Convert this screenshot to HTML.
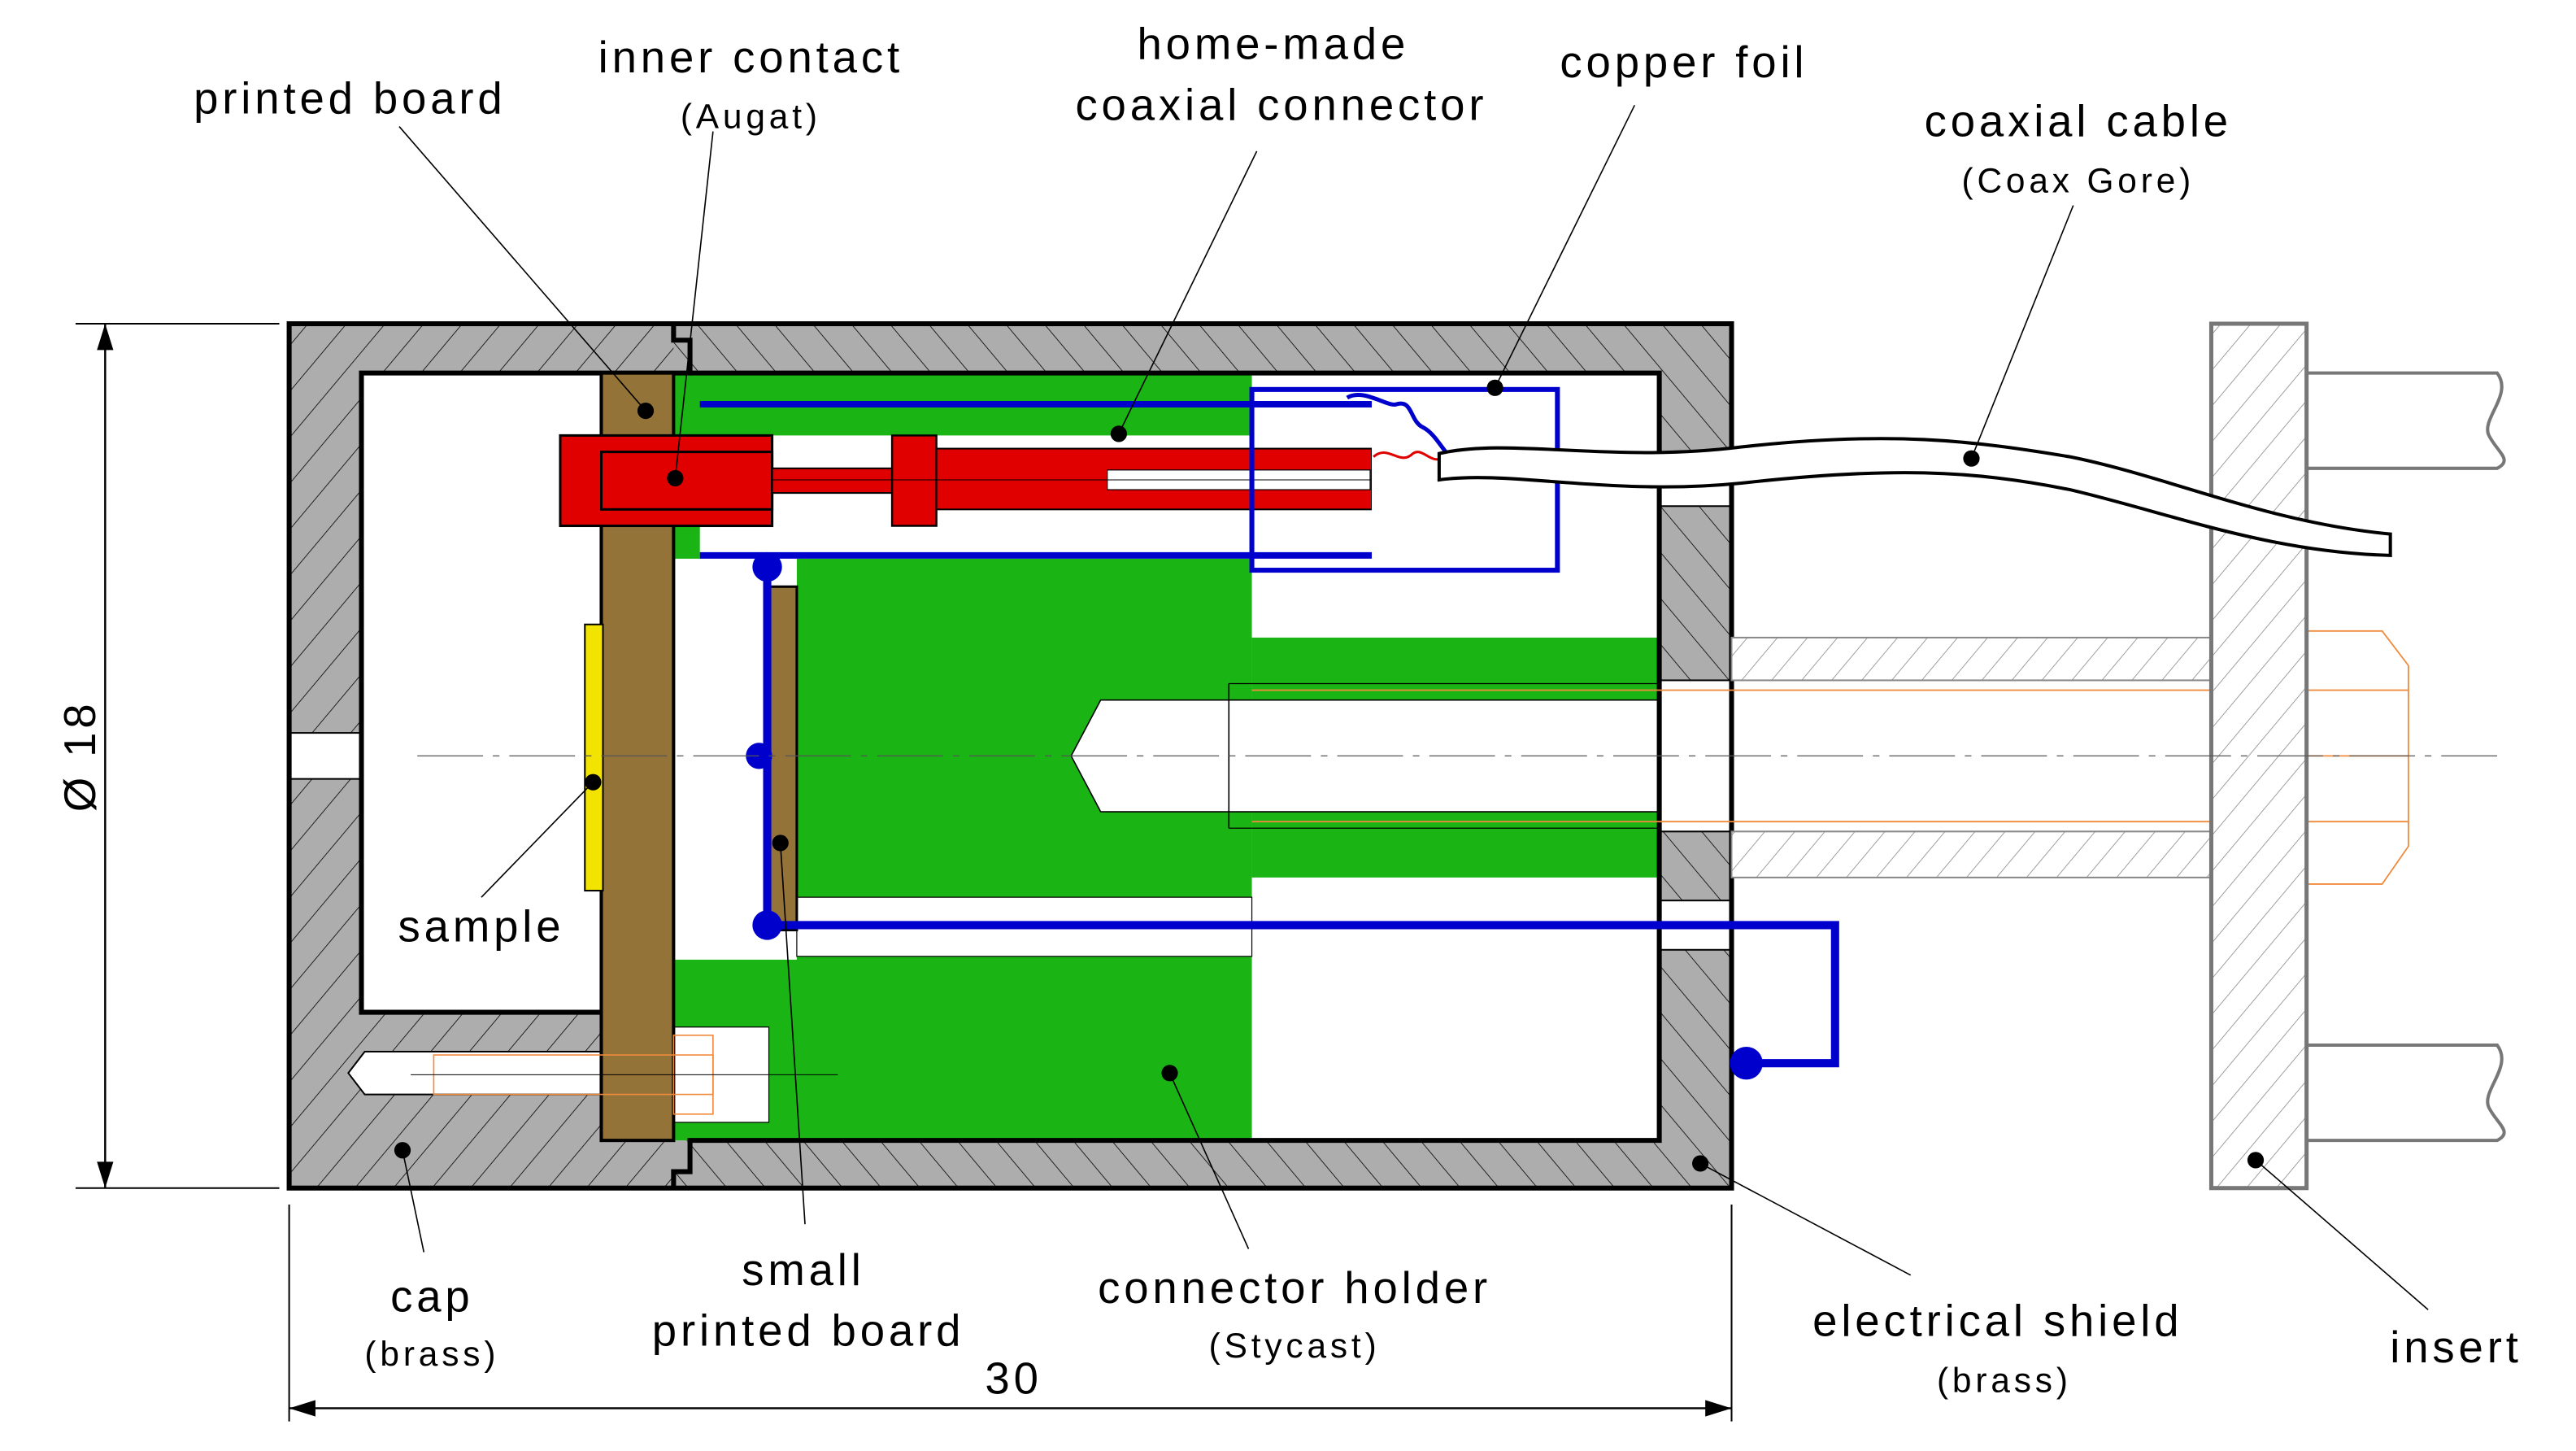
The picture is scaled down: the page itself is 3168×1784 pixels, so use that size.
<!DOCTYPE html>
<html><head><meta charset="utf-8"><style>
html,body{margin:0;padding:0;background:#fff;}
svg{display:block;}
text{font-family:"Liberation Sans",sans-serif;fill:#000;}
</style></head><body>
<svg width="3168" height="1784" viewBox="0 0 1568 883" xmlns="http://www.w3.org/2000/svg">
<defs>
<pattern id="hA" width="18" height="18" patternUnits="userSpaceOnUse" patternTransform="rotate(40)">
<rect width="18" height="18" fill="#adadad"/><line x1="0" y1="0" x2="0" y2="18" stroke="#000" stroke-width="0.8"/></pattern>
<pattern id="hB" width="18" height="18" patternUnits="userSpaceOnUse" patternTransform="rotate(-40)">
<rect width="18" height="18" fill="#adadad"/><line x1="0" y1="0" x2="0" y2="18" stroke="#000" stroke-width="0.8"/></pattern>
<pattern id="hC" width="14" height="14" patternUnits="userSpaceOnUse" patternTransform="rotate(40)">
<rect width="14" height="14" fill="#fff"/><line x1="0" y1="0" x2="0" y2="14" stroke="#888" stroke-width="0.8"/></pattern>
</defs>

<rect x="176" y="197" width="236" height="526" fill="url(#hA)"/>
<rect x="410" y="197" width="644" height="526" fill="url(#hB)"/>
<rect x="220" y="227" width="148" height="389" fill="#fff"/>
<rect x="176" y="446" width="44" height="28" fill="#fff" stroke="#000" stroke-width="1"/>
<path d="M368 640 L222 640 L212 653 L222 666 L368 666 Z" fill="#fff" stroke="#000" stroke-width="1"/>
<rect x="410" y="227" width="600" height="467" fill="#fff"/>
<rect x="1010" y="277" width="44" height="31" fill="#fff" stroke="#000" stroke-width="1"/>
<rect x="1010" y="414" width="44" height="92" fill="#fff" stroke="#000" stroke-width="1"/>
<rect x="1010" y="548" width="44" height="30" fill="#fff" stroke="#000" stroke-width="1"/>

<rect x="410" y="227" width="352" height="467" fill="#1ab515"/>
<rect x="762" y="388" width="248" height="146" fill="#1ab515"/>
<rect x="426" y="265" width="410" height="75" fill="#fff"/>
<rect x="410" y="340" width="75" height="244" fill="#fff"/>
<rect x="485" y="546" width="277" height="36" fill="#fff" stroke="#000" stroke-width="0.6"/>
<rect x="410" y="625" width="58" height="58" fill="#fff" stroke="#000" stroke-width="0.6"/>
<path d="M670 426 L1010 426 L1010 494 L670 494 L652 460 Z" fill="#fff" stroke="#000" stroke-width="0.8"/>
<line x1="748" y1="416" x2="748" y2="504" stroke="#000" stroke-width="0.8"/>
<line x1="748" y1="416" x2="1010" y2="416" stroke="#000" stroke-width="0.6"/>
<line x1="748" y1="504" x2="1010" y2="504" stroke="#000" stroke-width="0.6"/>

<path d="M176 197 L410 197 L410 207 L420 207 L420 227 L220 227 L220 616 L368 616" fill="none" stroke="#000" stroke-width="3"/>
<rect x="176" y="197" width="878" height="526" fill="none" stroke="#000" stroke-width="3"/>
<path d="M410 723 L410 713 L420 713 L420 694 L1010 694 L1010 227 L420 227" fill="none" stroke="#000" stroke-width="3"/>

<rect x="366" y="227" width="44" height="467" fill="#937338" stroke="#000" stroke-width="2"/>
<rect x="467" y="357" width="18" height="209" fill="#937338" stroke="#000" stroke-width="1.5"/>
<rect x="356" y="380" width="11" height="162" fill="#f2e300" stroke="#000" stroke-width="1"/>

<rect x="264" y="642" width="170" height="24" fill="none" stroke="#f08a3c" stroke-width="0.8"/>
<rect x="410" y="630" width="24" height="48" fill="none" stroke="#f08a3c" stroke-width="0.8"/>
<line x1="250" y1="654" x2="510" y2="654" stroke="#000" stroke-width="0.5"/>

<rect x="341" y="265" width="129" height="55" fill="#e00000" stroke="#000" stroke-width="1.5"/>
<rect x="366" y="275" width="104" height="35" fill="#e00000" stroke="#000" stroke-width="1.5"/>
<rect x="470" y="285" width="365" height="15" fill="#e00000" stroke="#000" stroke-width="1"/>
<rect x="543" y="265" width="27" height="55" fill="#e00000" stroke="#000" stroke-width="1.2"/>
<rect x="570" y="273" width="265" height="37" fill="#e00000" stroke="#000" stroke-width="1"/>
<rect x="674" y="286" width="160" height="12" fill="#fff" stroke="#000" stroke-width="0.6"/>
<line x1="470" y1="292" x2="880" y2="292" stroke="#000" stroke-width="0.5"/>

<path d="M426 246 L835 246 M426 338 L835 338" stroke="#0000cc" stroke-width="4"/>
<rect x="762" y="237" width="186" height="110" fill="none" stroke="#0000cc" stroke-width="3"/>
<rect x="835" y="248" width="40" height="88" fill="#fff"/>
<path d="M820 242 C830 236 845 248 850 246 C860 243 858 256 866 260 C872 263 876 270 880 275" fill="none" stroke="#0000cc" stroke-width="2.5"/>
<path d="M836 278 C845 270 852 284 860 276 C866 272 870 282 878 279" fill="none" stroke="#e00000" stroke-width="1.5"/>
<path d="M467 345 L467 563 L1117 563 L1117 647 L1063 647" fill="none" stroke="#0000cc" stroke-width="5"/>
<circle cx="467" cy="345" r="9" fill="#0000cc"/>
<circle cx="462" cy="460" r="8" fill="#0000cc"/>
<circle cx="467" cy="563" r="9" fill="#0000cc"/>
<circle cx="1063" cy="647" r="10" fill="#0000cc"/>

<rect x="1054" y="388" width="292" height="26" fill="url(#hC)" stroke="#888" stroke-width="1"/>
<rect x="1054" y="506" width="292" height="28" fill="url(#hC)" stroke="#888" stroke-width="1"/>
<path d="M762 420 L1404 420 M762 500 L1404 500 M1404 384 L1450 384 L1466 405 L1466 515 L1450 538 L1404 538 M1404 420 L1466 420 M1404 500 L1466 500 M1404 460 L1466 460" fill="none" stroke="#f08a3c" stroke-width="0.9"/>

<rect x="1346" y="197" width="58" height="526" fill="url(#hC)" stroke="#777" stroke-width="2.5"/>
<path d="M1404 227 L1520 227 C1530 240 1510 255 1515 265 C1520 275 1530 280 1520 285 L1404 285" fill="none" stroke="#777" stroke-width="2"/>
<path d="M1404 636 L1520 636 C1530 649 1510 664 1515 674 C1520 684 1530 689 1520 694 L1404 694" fill="none" stroke="#777" stroke-width="2"/>

<!-- cable (white tube) -->
<path d="M876 276 C920 266 980 282 1060 272 C1150 262 1200 268 1260 278 C1320 290 1380 318 1455 325 L1455 338 C1380 336 1320 312 1260 298 C1200 286 1150 284 1060 294 C980 302 920 286 876 292 Z" fill="#fff" stroke="#000" stroke-width="2"/>

<line x1="254" y1="460" x2="1520" y2="460" stroke="#555" stroke-width="0.6" stroke-dasharray="40 6 4 6"/>

<line x1="46" y1="197" x2="170" y2="197" stroke="#000" stroke-width="1"/>
<line x1="46" y1="723" x2="170" y2="723" stroke="#000" stroke-width="1"/>
<line x1="64" y1="197" x2="64" y2="723" stroke="#000" stroke-width="1.2"/>
<path d="M64 197 L59 213 L69 213 Z M64 723 L59 707 L69 707 Z" fill="#000"/>
<text x="58" y="460" font-size="27" letter-spacing="2.4" transform="rotate(-90 58 460)" text-anchor="middle">Ø 18</text>
<line x1="176" y1="733" x2="176" y2="865" stroke="#000" stroke-width="1"/>
<line x1="1054" y1="733" x2="1054" y2="865" stroke="#000" stroke-width="1"/>
<line x1="176" y1="857" x2="1054" y2="857" stroke="#000" stroke-width="1.2"/>
<path d="M176 857 L192 852 L192 862 Z M1054 857 L1038 852 L1038 862 Z" fill="#000"/>
<text x="617" y="848" font-size="27" letter-spacing="2.4" text-anchor="middle">30</text>

<g stroke="#000" stroke-width="0.8" fill="none">
<path d="M243 77 L393 250"/>
<path d="M434 80 L411 291"/>
<path d="M765 92 L681 264"/>
<path d="M995 64 L910 236"/>
<path d="M1262 125 L1200 279"/>
<path d="M293 546 L361 476"/>
<path d="M258 762 L245 700"/>
<path d="M490 745 L475 513"/>
<path d="M760 760 L712 653"/>
<path d="M1163 776 L1035 708"/>
<path d="M1478 797 L1373 706"/>
</g>
<g fill="#000">
<circle cx="393" cy="250" r="5"/><circle cx="411" cy="291" r="5"/><circle cx="681" cy="264" r="5"/>
<circle cx="910" cy="236" r="5"/><circle cx="1200" cy="279" r="5"/><circle cx="361" cy="476" r="5"/>
<circle cx="245" cy="700" r="5"/><circle cx="475" cy="513" r="5"/><circle cx="712" cy="653" r="5"/>
<circle cx="1035" cy="708" r="5"/><circle cx="1373" cy="706" r="5"/>
</g>

<g font-size="27" text-anchor="middle" letter-spacing="2.4">
<text x="213" y="69">printed board</text>
<text x="457" y="44">inner contact</text>
<text x="457" y="78" font-size="21">(Augat)</text>
<text x="775" y="36">home-made</text>
<text x="780" y="73">coaxial connector</text>
<text x="1025" y="47">copper foil</text>
<text x="1265" y="83">coaxial cable</text>
<text x="1265" y="117" font-size="21">(Coax Gore)</text>
<text x="293" y="573">sample</text>
<text x="263" y="798">cap</text>
<text x="263" y="831" font-size="21">(brass)</text>
<text x="489" y="782">small</text>
<text x="492" y="819">printed board</text>
<text x="788" y="793">connector holder</text>
<text x="788" y="826" font-size="21">(Stycast)</text>
<text x="1216" y="813">electrical shield</text>
<text x="1220" y="847" font-size="21">(brass)</text>
<text x="1495" y="829">insert</text>
</g>
</svg>
</body></html>
